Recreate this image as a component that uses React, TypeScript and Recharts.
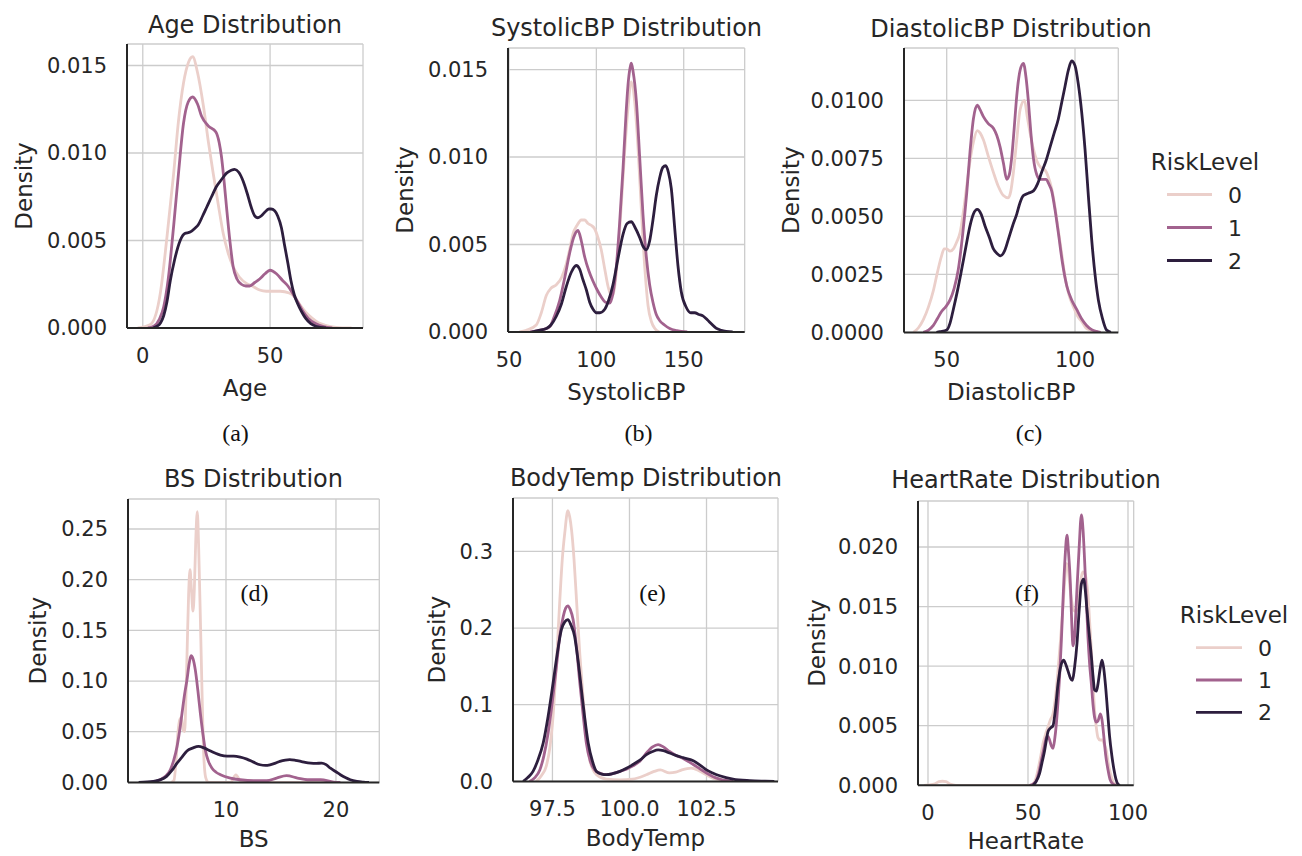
import React from 'react';
import { LineChart, Line, XAxis, YAxis, CartesianGrid, Label } from 'recharts';

type P = [number, number][];

const RISK_LEVELS = ['0', '1', '2'];
const COLORS = ['#ebcfca', '#a2628e', '#2d1e3e'];

// ---------- Age ----------
const age0: P = [[-2,0],[3,0.0002],[6.9,0.002],[9.5,0.0052],[12.1,0.0088],[14,0.0118],[16,0.014],[18,0.0152],[19.6,0.0155],[21.5,0.0146],[23.8,0.0127],[25.8,0.0106],[27.7,0.0088],[29.6,0.0071],[31.6,0.0054],[33.5,0.0043],[35.5,0.0035],[38,0.0029],[40.7,0.00255],[43,0.0024],[45.9,0.00217],[48.5,0.0021],[51,0.0021],[54,0.0021],[57.5,0.002],[59.5,0.0018],[61.4,0.0014],[64,0.0009],[66.6,0.00055],[69,0.0003],[71.8,0.00015],[76,0.00004],[82,0]];
const age1: P = [[2,0],[4.3,0.0001],[6.5,0.0005],[8.2,0.0012],[10,0.0028],[12.1,0.0058],[14,0.0088],[16,0.0117],[17.8,0.0129],[19.6,0.0132],[21.5,0.0128],[23.1,0.0121],[25.7,0.01155],[28.7,0.0112],[30,0.0106],[30.9,0.0098],[32,0.0083],[32.9,0.0069],[34.2,0.005],[35.5,0.0035],[37,0.0028],[38.7,0.0025],[40.5,0.0024],[42,0.0024],[44,0.0026],[45.9,0.0028],[48,0.0031],[50,0.0033],[52.5,0.0031],[55,0.0027],[57,0.0024],[58.8,0.002],[60.8,0.0015],[62.7,0.001],[65,0.00055],[68,0.00025],[71,0.00008],[74.4,0]];
const age2: P = [[4,0],[5.6,0.0001],[7,0.0003],[8.2,0.0007],[9.5,0.0015],[10.8,0.0027],[12.5,0.0039],[14.7,0.005],[16.5,0.0054],[18.6,0.00548],[20.5,0.0057],[21.8,0.0059],[23.5,0.0064],[25.1,0.0069],[27,0.0075],[29,0.0081],[31,0.0085],[32.9,0.00885],[34.6,0.009],[36.1,0.00907],[37.7,0.0089],[39.4,0.0084],[41,0.0077],[42.6,0.0069],[44,0.0064],[45.2,0.0063],[46.5,0.0064],[47.8,0.0066],[49.5,0.0068],[50.4,0.0068],[51.8,0.0067],[53,0.0064],[54.5,0.0057],[55.6,0.0048],[57,0.0037],[58.2,0.0027],[59.5,0.0019],[60.8,0.0014],[62.5,0.0009],[64,0.00055],[66,0.00025],[68,0.0001],[72,0]];

// ---------- SystolicBP ----------
const sys0: P = [[56,0],[60,0.0001],[65.6,0.0004],[68.5,0.0011],[71.4,0.0021],[74,0.0025],[77.1,0.0027],[80,0.0031],[82.8,0.0039],[84.7,0.0047],[86.6,0.0056],[89,0.0061],[91.4,0.0064],[93.3,0.0064],[95.2,0.0062],[97,0.0061],[99,0.0059],[100.9,0.0054],[102.8,0.0047],[104.8,0.0036],[106.7,0.0026],[108.5,0.0021],[109.5,0.0021],[110.5,0.0026],[112.4,0.0045],[114.3,0.0073],[116.2,0.0103],[118.1,0.0128],[120,0.0143],[121.9,0.0132],[123.8,0.0106],[125.7,0.0071],[127.7,0.0037],[129.6,0.0015],[131.5,0.0006],[133.5,0.0002],[136,0]];
const sys1: P = [[62,0],[65.6,0.00006],[70,0.00015],[73.3,0.0003],[76,0.0009],[79,0.0018],[81.9,0.0031],[84.7,0.0045],[87,0.0054],[89.5,0.0058],[91.4,0.0052],[93.3,0.0043],[95.7,0.0035],[98.1,0.0029],[100.5,0.0024],[102.8,0.002],[105.2,0.0017],[107.6,0.00165],[109.5,0.0022],[111.4,0.0037],[113.3,0.0062],[115.3,0.0094],[117,0.0125],[118.1,0.0141],[119.3,0.0151],[120,0.01536],[121,0.0149],[122.9,0.0132],[124.8,0.01],[126.7,0.0067],[128.6,0.0043],[130.5,0.0027],[132.4,0.0017],[134.3,0.001],[136.2,0.00066],[139,0.0004],[142,0.0002],[146,0.00008],[152,0]];
const sys2: P = [[63,0],[67,0.0001],[71.4,0.0002],[74,0.0004],[77.1,0.0009],[80,0.0016],[82.8,0.0026],[85.6,0.0034],[88.5,0.0038],[90.4,0.0036],[92.3,0.003],[94.3,0.0024],[96.2,0.0017],[98.1,0.0013],[100,0.0011],[102,0.0011],[104.8,0.0013],[107,0.0018],[109.5,0.0027],[112.4,0.0042],[115.3,0.0056],[117.6,0.0062],[120,0.0063],[122,0.006],[124.8,0.0054],[126.7,0.0049],[128.6,0.0047],[130.5,0.0052],[132.4,0.0064],[134.3,0.0078],[136.2,0.0088],[138,0.0094],[139.7,0.0095],[141.3,0.0091],[142.9,0.0082],[144.8,0.006],[146.7,0.0038],[148.6,0.0023],[151.5,0.0014],[154,0.0011],[156.3,0.0011],[158.7,0.001],[161,0.00092],[163.5,0.0007],[165.8,0.00047],[168.5,0.00022],[171.5,0.0001],[178,0]];

// ---------- DiastolicBP ----------
const dia0: P = [[37,0],[39,0.0002],[40.9,0.00055],[42.9,0.0011],[44.8,0.0018],[46.4,0.0026],[48,0.0033],[49,0.0036],[50,0.0036],[51.3,0.0035],[52.6,0.0036],[53.9,0.0039],[55.2,0.0043],[56.5,0.0052],[57.8,0.0063],[59.1,0.0074],[60.4,0.0082],[61.9,0.0087],[63,0.0086],[64.3,0.0083],[66.2,0.0076],[68.2,0.0069],[70.1,0.0063],[72.1,0.0059],[74,0.0058],[75,0.0061],[76,0.0069],[77.3,0.0083],[78.6,0.0096],[80.3,0.01],[81.4,0.0093],[82.5,0.0086],[83.8,0.0079],[85.1,0.0074],[86.7,0.0071],[88.3,0.007],[89.6,0.0067],[90.9,0.0062],[92.2,0.0054],[93.5,0.0044],[94.8,0.0034],[96.1,0.0024],[97.7,0.0016],[99.4,0.0011],[101,0.0007],[102.6,0.00047],[104.2,0.0002],[105.8,0.0001],[108,0]];
const dia1: P = [[40.9,0],[42.9,0.0001],[44.8,0.0003],[46.4,0.0006],[48,0.0009],[49.6,0.0011],[51.3,0.0014],[52.9,0.0019],[54.5,0.0027],[56.2,0.0042],[57.8,0.006],[59.1,0.0078],[60.4,0.0092],[61.9,0.0098],[63,0.0096],[64.3,0.0093],[66.2,0.009],[68.2,0.0088],[69.5,0.0085],[70.8,0.008],[72.1,0.0073],[73.4,0.0066],[74.4,0.0068],[75.3,0.0075],[76.3,0.0088],[77.3,0.0102],[78.6,0.0113],[79.9,0.0116],[80.9,0.011],[81.8,0.01],[82.8,0.0086],[83.8,0.0075],[85.1,0.0068],[86.4,0.0066],[87.5,0.0066],[88.7,0.0066],[89.8,0.0064],[90.9,0.0061],[92.2,0.0053],[93.5,0.0043],[95.1,0.003],[96.8,0.002],[98.7,0.0014],[100.6,0.001],[102.5,0.0006],[104.5,0.0003],[106.5,0.00012],[108.4,0.00004],[110,0]];
const dia2: P = [[46,0],[47.4,0.00003],[50,0.0001],[51.3,0.0004],[52.6,0.001],[54.2,0.0018],[55.8,0.0027],[57.5,0.0037],[59.1,0.0046],[60.4,0.0051],[61.9,0.0053],[63.4,0.0051],[64.9,0.0046],[66.6,0.0041],[68.2,0.0036],[69.6,0.0034],[71,0.0033],[72.5,0.0035],[74,0.004],[75.7,0.0046],[77.3,0.0051],[78.6,0.0056],[79.9,0.0059],[81.8,0.006],[83.8,0.0061],[85.4,0.0064],[87,0.0069],[88.7,0.0074],[90.3,0.008],[91.9,0.0086],[93.5,0.0092],[94.8,0.0099],[96.1,0.0106],[97.4,0.0113],[98.7,0.0117],[100,0.0115],[101.3,0.0107],[102.6,0.0095],[103.9,0.0079],[105.2,0.0059],[106.5,0.004],[107.8,0.0025],[109.1,0.0014],[110.7,0.0006],[112.3,0.0001],[114,0]];

// ---------- BS ----------
const bs0: P = [[5,0],[5.27,0.002],[5.45,0.02],[5.6,0.045],[5.8,0.062],[5.95,0.064],[6.1,0.052],[6.24,0.05],[6.36,0.085],[6.48,0.136],[6.6,0.185],[6.73,0.21],[6.86,0.19],[7,0.169],[7.12,0.19],[7.24,0.235],[7.39,0.267],[7.52,0.23],[7.69,0.152],[7.82,0.09],[7.94,0.037],[8.15,0.005],[8.4,0],[10.4,0],[10.9,0.0075],[11.4,0],[20,0]];
const bs1: P = [[3.1,0],[4,0.0026],[4.5,0.006],[4.94,0.0125],[5.25,0.022],[5.55,0.0355],[5.8,0.052],[6,0.068],[6.25,0.088],[6.45,0.101],[6.65,0.117],[6.82,0.125],[7,0.122],[7.21,0.111],[7.45,0.09],[7.67,0.068],[7.9,0.048],[8.12,0.032],[8.4,0.021],[8.73,0.014],[9.1,0.01],[9.5,0.0076],[10.4,0.0043],[11.3,0.0026],[12.5,0.0016],[13.7,0.0016],[14.6,0.0043],[15.5,0.0066],[16.5,0.0043],[17.4,0.0026],[18.6,0.0026],[19.8,0.0003],[20.4,0]];
const bs2: P = [[2.06,0],[3.4,0.001],[4,0.0025],[4.6,0.006],[5.1,0.012],[5.55,0.019],[6,0.025],[6.45,0.031],[7,0.034],[7.5,0.0355],[8,0.034],[8.4,0.032],[9,0.029],[9.5,0.027],[10.1,0.026],[10.7,0.026],[11.3,0.025],[11.9,0.023],[12.5,0.02],[13.1,0.0174],[13.6,0.0168],[14,0.0174],[14.5,0.019],[14.9,0.0207],[15.4,0.022],[15.8,0.0224],[16.3,0.0218],[16.8,0.0207],[17.2,0.0197],[17.7,0.019],[18.2,0.0188],[18.7,0.019],[19.1,0.0175],[19.5,0.014],[20,0.0105],[20.4,0.0076],[20.9,0.0045],[21.3,0.0026],[21.9,0.001],[22.5,0.0003],[23,0]];

// ---------- BodyTemp ----------
const bt0: P = [[96.98,0],[97.15,0.008],[97.3,0.02],[97.42,0.045],[97.52,0.085],[97.63,0.155],[97.74,0.237],[97.82,0.29],[97.9,0.324],[98,0.353],[98.06,0.345],[98.12,0.328],[98.2,0.29],[98.28,0.237],[98.39,0.165],[98.5,0.106],[98.6,0.06],[98.71,0.028],[98.82,0.015],[98.93,0.0087],[99.25,0.003],[99.69,0.002],[100.1,0.003],[100.55,0.0087],[100.8,0.013],[101,0.015],[101.3,0.011],[101.5,0.012],[101.7,0.015],[102,0.0174],[102.3,0.013],[102.7,0.0043],[103.1,0.001],[103.5,0]];
const bt1: P = [[96.76,0],[96.93,0.005],[97.09,0.015],[97.22,0.033],[97.36,0.063],[97.5,0.105],[97.63,0.15],[97.74,0.19],[97.85,0.215],[97.93,0.226],[98,0.229],[98.08,0.224],[98.17,0.211],[98.28,0.175],[98.39,0.128],[98.5,0.085],[98.6,0.05],[98.73,0.026],[98.87,0.015],[99.05,0.0105],[99.25,0.0087],[99.45,0.01],[99.69,0.013],[99.9,0.016],[100.1,0.02],[100.35,0.027],[100.55,0.037],[100.75,0.045],[100.93,0.048],[101.1,0.045],[101.3,0.039],[101.5,0.034],[101.74,0.03],[102.07,0.022],[102.3,0.016],[102.5,0.011],[102.7,0.0065],[102.93,0.003],[103.36,0]];
const bt2: P = [[96.55,0],[96.7,0.005],[96.87,0.013],[97.03,0.028],[97.2,0.05],[97.36,0.085],[97.52,0.128],[97.65,0.165],[97.79,0.198],[97.9,0.208],[98,0.211],[98.1,0.204],[98.22,0.189],[98.33,0.158],[98.44,0.12],[98.55,0.082],[98.66,0.05],[98.8,0.026],[98.93,0.013],[99.1,0.0095],[99.25,0.0087],[99.45,0.01],[99.69,0.013],[99.9,0.017],[100.1,0.0217],[100.35,0.028],[100.55,0.035],[100.75,0.039],[100.93,0.041],[101.1,0.04],[101.3,0.037],[101.5,0.034],[101.74,0.031],[102.07,0.027],[102.3,0.021],[102.5,0.015],[102.7,0.011],[102.93,0.0074],[103.36,0.003],[103.9,0.001],[104.4,0.0003],[104.7,0]];

// ---------- HeartRate ----------
const hr0: P = [[-2,0],[3,0.0001],[5.5,0.0003],[7.2,0.00034],[9,0.0003],[11,0.0001],[14,0],[51,0],[52.5,0.0001],[54,0.0006],[55,0.0013],[56.3,0.0024],[57.5,0.0035],[58.8,0.0043],[60,0.0049],[61.2,0.0055],[62.5,0.006],[63.8,0.0075],[65,0.0096],[66.3,0.0123],[67.5,0.015],[68.4,0.0172],[69.2,0.0186],[70,0.0183],[70.8,0.0169],[71.8,0.0155],[72.8,0.0147],[74,0.0146],[75,0.015],[75.8,0.0163],[76.7,0.0175],[77.5,0.0179],[78.3,0.0178],[79.2,0.0172],[80,0.016],[80.8,0.0138],[81.7,0.0113],[82.5,0.0086],[83.3,0.0063],[84.2,0.0048],[85,0.004],[86,0.0038],[87.2,0.0038],[88.2,0.0034],[89.2,0.0029],[90,0.002],[90.8,0.0013],[91.7,0.0007],[92.5,0.0003],[93.5,0.0001],[95,0]];
const hr1: P = [[50.8,0],[52.5,0.0001],[54.2,0.0004],[55.5,0.0011],[56.7,0.0021],[58,0.0031],[59.2,0.004],[60,0.0041],[60.8,0.0038],[61.7,0.0033],[62.5,0.0031],[63.3,0.0038],[64.2,0.0052],[65,0.007],[65.8,0.0091],[66.7,0.0122],[67.5,0.0155],[68.5,0.019],[69.5,0.021],[70.3,0.0195],[71.2,0.0169],[71.9,0.0135],[72.5,0.0117],[73.3,0.0125],[74.2,0.0155],[75.5,0.0197],[76.7,0.0227],[77.5,0.0215],[78.3,0.0189],[79.2,0.0155],[80,0.0124],[80.8,0.0102],[81.7,0.0085],[82.5,0.0068],[83.3,0.0057],[84.2,0.0053],[85,0.0054],[86.2,0.006],[87,0.0055],[87.8,0.0043],[88.8,0.0026],[90,0.0013],[91,0.0005],[92.5,0.0001],[94,0]];
const hr2: P = [[52.5,0],[54,0.0003],[55.8,0.001],[57,0.0019],[58.3,0.0029],[59.2,0.0038],[60,0.0045],[61.2,0.0048],[62.5,0.005],[63.8,0.0065],[65,0.0085],[66.4,0.01],[67.8,0.0105],[69,0.0101],[70,0.0096],[71.2,0.009],[72.2,0.0088],[73.3,0.0099],[74.5,0.0119],[75.6,0.0147],[76.7,0.0169],[77.8,0.0173],[78.7,0.0163],[79.5,0.0147],[80.6,0.0127],[81.7,0.0108],[82.5,0.0092],[83.3,0.008],[84.2,0.0079],[85,0.0085],[86,0.0097],[87,0.0105],[87.8,0.0099],[88.7,0.0085],[89.8,0.0062],[90.8,0.0041],[92,0.0024],[93,0.0013],[94,0.0005],[95,0.0001],[96,0]];

// ---------- Ticks ----------
const ageTicks = [0, 50];
const sysTicks = [50, 100, 150];
const diaTicks = [50, 100];
const bsTicks = [10, 20];
const btTicks = [97.5, 100, 102.5];
const hrTicks = [0, 50, 100];
const densTicks3 = [0, 0.005, 0.01, 0.015];
const diaDensTicks = [0, 0.0025, 0.005, 0.0075, 0.01];
const bsDensTicks = [0, 0.05, 0.1, 0.15, 0.2, 0.25];
const btDensTicks = [0, 0.1, 0.2, 0.3];
const hrDensTicks = [0, 0.005, 0.01, 0.015, 0.02];

const YW = 130;
const MT = 10;
const MR = 40;
const XH = 80;
const INK = '#262626';
const FONT = "'DejaVu Sans', sans-serif";

type PanelProps = {
  box: [number, number, number, number];
  xDomain: [number, number];
  yDomain: [number, number];
  xTicks: number[];
  yTicks: number[];
  xFmt: (v: number) => string;
  yFmt: (v: number) => string;
  series: P[];
  xLabel: string;
  xLabelOffset: number;
  yLabelOffset: number;
};

function Panel({ box, xDomain, yDomain, xTicks, yTicks, xFmt, yFmt, series, xLabel, xLabelOffset, yLabelOffset }: PanelProps) {
  const [L, T, R, B] = box;
  const w = YW + (R - L) + MR;
  const h = MT + (B - T) + XH;
  return (
    <div style={{ position: 'absolute', left: L - YW, top: T - MT }}>
      <LineChart width={w} height={h} margin={{ top: MT, right: MR, bottom: 0, left: 0 }}>
        <CartesianGrid stroke="#cccccc" strokeWidth={1.3} />
        <XAxis
          type="number"
          dataKey="x"
          domain={xDomain}
          ticks={xTicks}
          interval={0}
          allowDataOverflow
          height={XH}
          tickLine={false}
          tickSize={0}
          tickMargin={20}
          axisLine={{ stroke: INK, strokeWidth: 2 }}
          tick={{ fontSize: 21, fill: INK, fontFamily: FONT }}
          tickFormatter={xFmt}
        >
          <Label value={xLabel} position="insideBottom" offset={xLabelOffset} style={{ fontSize: 23, fill: INK, fontFamily: FONT }} />
        </XAxis>
        <YAxis
          type="number"
          domain={yDomain}
          ticks={yTicks}
          interval={0}
          allowDataOverflow
          width={YW}
          tickLine={false}
          tickSize={0}
          tickMargin={20}
          axisLine={{ stroke: INK, strokeWidth: 2 }}
          tick={{ fontSize: 21, fill: INK, fontFamily: FONT }}
          tickFormatter={yFmt}
        >
          <Label
            value="Density"
            angle={-90}
            position="insideLeft"
            offset={yLabelOffset}
            style={{ textAnchor: 'middle', fontSize: 23, fill: INK, fontFamily: FONT }}
          />
        </YAxis>
        {series.map((s, i) => (
          <Line
            key={RISK_LEVELS[i]}
            name={RISK_LEVELS[i]}
            data={s.map(([x, y]) => ({ x, y }))}
            dataKey="y"
            type="monotone"
            stroke={COLORS[i]}
            strokeWidth={2.8}
            dot={false}
            activeDot={false}
            isAnimationActive={false}
          />
        ))}
      </LineChart>
    </div>
  );
}

const f0 = (v: number) => String(v);
const f1 = (v: number) => v.toFixed(1);
const f2 = (v: number) => v.toFixed(2);
const f3 = (v: number) => v.toFixed(3);
const f4 = (v: number) => v.toFixed(4);

function LegendBlock({ cx, titleY, lineX1, lineX2, rows, textX }: { cx: number; titleY: number; lineX1: number; lineX2: number; rows: number[]; textX: number }) {
  return (
    <g>
      <text x={cx} y={titleY} textAnchor="middle" fontSize={23} fill={INK} fontFamily={FONT}>RiskLevel</text>
      {RISK_LEVELS.map((lv, i) => (
        <g key={lv}>
          <line x1={lineX1} x2={lineX2} y1={rows[i]} y2={rows[i]} stroke={COLORS[i]} strokeWidth={2.8} />
          <text x={textX} y={rows[i] + 8} fontSize={22} fill={INK} fontFamily={FONT}>{lv}</text>
        </g>
      ))}
    </g>
  );
}

const titles: [string, number, number][] = [
  ['Age Distribution', 245, 33],
  ['SystolicBP Distribution', 626.5, 36],
  ['DiastolicBP Distribution', 1011, 36.5],
  ['BS Distribution', 253.5, 487],
  ['BodyTemp Distribution', 646, 486],
  ['HeartRate Distribution', 1026, 488],
];
const captions: [string, number, number][] = [
  ['(a)', 235.5, 441],
  ['(b)', 638.5, 441],
  ['(c)', 1029, 441],
  ['(d)', 254.5, 601],
  ['(e)', 652.5, 601],
  ['(f)', 1027, 601],
];

export default function App() {
  return (
    <div style={{ position: 'relative', width: 1302, height: 856, background: '#ffffff', overflow: 'hidden', fontFamily: FONT }}>
      <style>{'body{margin:0;}'}</style>
      <Panel box={[127, 44, 363, 328]} xDomain={[-6.2, 86.5]} yDomain={[0, 0.01623]} xTicks={ageTicks} yTicks={densTicks3} xFmt={f0} yFmt={f3} series={[age0, age1, age2]} xLabel="Age" xLabelOffset={12} yLabelOffset={27} />
      <Panel box={[508.3, 47.7, 745, 331.7]} xDomain={[49.43, 184.9]} yDomain={[0, 0.01623]} xTicks={sysTicks} yTicks={densTicks3} xFmt={f0} yFmt={f3} series={[sys0, sys1, sys2]} xLabel="SystolicBP" xLabelOffset={12} yLabelOffset={27} />
      <Panel box={[904, 48.3, 1118.3, 332.7]} xDomain={[33.36, 116.87]} yDomain={[0, 0.01226]} xTicks={diaTicks} yTicks={diaDensTicks} xFmt={f0} yFmt={f4} series={[dia0, dia1, dia2]} xLabel="DiastolicBP" xLabelOffset={12} yLabelOffset={17} />
      <Panel box={[127.7, 499.3, 379, 782.7]} xDomain={[1.09, 23.94]} yDomain={[0, 0.2796]} xTicks={bsTicks} yTicks={bsDensTicks} xFmt={f0} yFmt={f2} series={[bs0, bs1, bs2]} xLabel="BS" xLabelOffset={15} yLabelOffset={40} />
      <Panel box={[513.3, 498.3, 778.3, 781.7]} xDomain={[96.22, 104.82]} yDomain={[0, 0.3696]} xTicks={btTicks} yTicks={btDensTicks} xFmt={f1} yFmt={f1} series={[bt0, bt1, bt2]} xLabel="BodyTemp" xLabelOffset={15} yLabelOffset={54} />
      <Panel box={[918.3, 500.7, 1134, 785]} xDomain={[-5, 102.85]} yDomain={[0, 0.02386]} xTicks={hrTicks} yTicks={hrDensTicks} xFmt={f0} yFmt={f3} series={[hr0, hr1, hr2]} xLabel="HeartRate" xLabelOffset={16} yLabelOffset={29} />
      <svg width={1302} height={856} style={{ position: 'absolute', left: 0, top: 0, pointerEvents: 'none' }}>
        {titles.map(([t, x, y]) => (
          <text key={t} x={x} y={y} textAnchor="middle" fontSize={24} fill={INK} fontFamily={FONT}>{t}</text>
        ))}
        {captions.map(([t, x, y]) => (
          <text key={t} x={x} y={y} textAnchor="middle" fontSize={24} fill="#111111" fontFamily="'Liberation Serif', 'Times New Roman', serif">{t}</text>
        ))}
        <LegendBlock cx={1205} titleY={170} lineX1={1167} lineX2={1212} rows={[194.5, 227.5, 260.5]} textX={1228} />
        <LegendBlock cx={1234} titleY={623} lineX1={1196} lineX2={1242} rows={[647.7, 680, 712.3]} textX={1258} />
      </svg>
    </div>
  );
}
